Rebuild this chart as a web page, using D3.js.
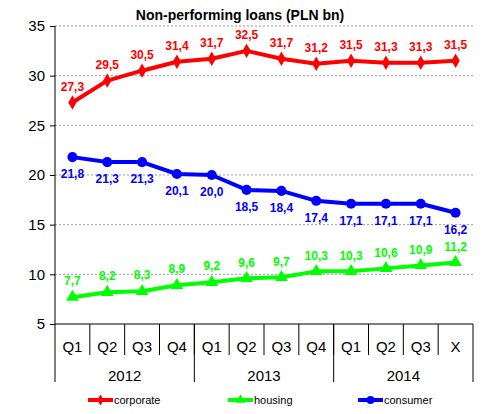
<!DOCTYPE html>
<html>
<head>
<meta charset="utf-8">
<script src="https://cdn.jsdelivr.net/npm/d3@7"></script>
<style>
  html, body { margin: 0; padding: 0; background: #fff; }
  svg { display: block; font-family: Arial, "Liberation Sans", sans-serif; }
</style>
</head>
<body>
<svg id="chart" width="489" height="414"></svg>
<script>
// Quarterly non-performing loans, PLN bn
const quarters = ["Q1", "Q2", "Q3", "Q4", "Q1", "Q2", "Q3", "Q4", "Q1", "Q2", "Q3", "X"];
const years = ["2012", "2013", "2014"];
const yearSpans = [4, 4, 4];
const corporate = [27.3, 29.5, 30.5, 31.4, 31.7, 32.5, 31.7, 31.2, 31.5, 31.3, 31.3, 31.5];
const housing = [7.7, 8.2, 8.3, 8.9, 9.2, 9.6, 9.7, 10.3, 10.3, 10.6, 10.9, 11.2];
const consumer = [21.8, 21.3, 21.3, 20.1, 20.0, 18.5, 18.4, 17.4, 17.1, 17.1, 17.1, 16.2];
const yTicks = [5, 10, 15, 20, 25, 30, 35];

const series = [
  { name: "corporate", values: corporate, color: "#ff0000", symbol: d3.symbolDiamond, size: 60, labelDy: -16 },
  { name: "housing", values: housing, color: "#00ff00", symbol: d3.symbolTriangle, size: 70, labelDy: -16 },
  { name: "consumer", values: consumer, color: "#0000ff", symbol: d3.symbolCircle, size: 80, labelDy: 17 }
];

const svg = d3.select("#chart");
const plot = { left: 55, right: 473, top: 26, bottom: 324 };

const x = d3.scaleBand().domain(d3.range(quarters.length)).range([plot.left, plot.right]);
const y = d3.scaleLinear().domain([5, 35]).range([plot.bottom, plot.top]);
const cx = i => x(i) + x.bandwidth() / 2;

// gridlines
svg.append("g").selectAll("line")
  .data(yTicks.filter(t => t > 5))
  .join("line")
  .attr("x1", plot.left).attr("x2", plot.right)
  .attr("y1", d => y(d)).attr("y2", d => y(d))
  .attr("stroke", "#999").attr("stroke-width", 1)
  .attr("stroke-dasharray", "2,2");

// y axis
const yAxis = svg.append("g")
  .attr("transform", `translate(${plot.left},0)`)
  .call(d3.axisLeft(y).tickValues(yTicks).tickSize(5).tickPadding(5).tickFormat(d3.format("d")));
yAxis.select(".domain").attr("d", `M0,${y(35)}V${plot.bottom + 58}`).attr("stroke", "#000");
yAxis.selectAll("text").attr("font-size", 15).attr("fill", "#000")
  .attr("font-family", "Arial, 'Liberation Sans', sans-serif");
yAxis.selectAll(".tick line").attr("stroke", "#000");

// x axis: quarter row and year row
const axisG = svg.append("g");
axisG.append("line").attr("x1", plot.left).attr("x2", plot.right)
  .attr("y1", plot.bottom).attr("y2", plot.bottom).attr("stroke", "#000");
const bounds = d3.range(1, quarters.length).map(i => x(i));
// short separators between quarters
axisG.selectAll("line.q")
  .data(bounds)
  .join("line").attr("class", "q")
  .attr("x1", d => d).attr("x2", d => d)
  .attr("y1", plot.bottom).attr("y2", plot.bottom + 31)
  .attr("stroke", "#000");
// long separators between years
const yearStarts = [0, ...d3.cumsum(yearSpans)];
const edgeX = n => n < quarters.length ? x(n) : plot.right;
axisG.selectAll("line.yr")
  .data(yearStarts.slice(1))
  .join("line").attr("class", "yr")
  .attr("x1", d => edgeX(d)).attr("x2", d => edgeX(d))
  .attr("y1", plot.bottom).attr("y2", plot.bottom + 58)
  .attr("stroke", "#000");
axisG.selectAll("text.q")
  .data(quarters)
  .join("text").attr("class", "q")
  .attr("x", (d, i) => cx(i))
  .attr("y", plot.bottom + 28)
  .attr("text-anchor", "middle")
  .attr("font-size", 15)
  .text(d => d);
axisG.selectAll("text.yr")
  .data(years)
  .join("text").attr("class", "yr")
  .attr("x", (d, i) => (edgeX(yearStarts[i]) + edgeX(yearStarts[i + 1])) / 2)
  .attr("y", plot.bottom + 57)
  .attr("text-anchor", "middle")
  .attr("font-size", 15)
  .text(d => d);

// series
const line = d3.line().x((d, i) => cx(i)).y(d => y(d));
const fmt = v => d3.format(".1f")(v).replace(".", ",");

series.forEach(s => {
  const g = svg.append("g");
  g.append("path").datum(s.values)
    .attr("d", line).attr("fill", "none")
    .attr("stroke", s.color).attr("stroke-width", 4)
    .attr("stroke-linejoin", "round");
  g.selectAll("path.m").data(s.values).join("path").attr("class", "m")
    .attr("transform", (d, i) => `translate(${cx(i)},${y(d)})`)
    .attr("d", d3.symbol().type(s.symbol).size(s.size))
    .attr("fill", s.color);
  g.selectAll("text").data(s.values).join("text")
    .attr("x", (d, i) => cx(i))
    .attr("y", d => y(d) + s.labelDy)
    .attr("dy", "0.35em")
    .attr("text-anchor", "middle")
    .attr("font-size", 12).attr("font-weight", "bold")
    .attr("fill", s.color)
    .text(d => fmt(d));
});

// title
svg.append("text").attr("x", 240).attr("y", 20)
  .attr("text-anchor", "middle")
  .attr("font-size", 14).attr("font-weight", "bold")
  .text("Non-performing loans (PLN bn)");

// legend
const legendX = [88, 228, 358];
const legend = svg.append("g");
series.forEach((s, i) => {
  const lg = legend.append("g").attr("transform", `translate(${legendX[i]},400)`);
  lg.append("line").attr("x1", 0).attr("x2", 25).attr("stroke", s.color).attr("stroke-width", 4);
  lg.append("path").attr("transform", "translate(12.5,0)")
    .attr("d", d3.symbol().type(s.symbol).size(s.size * 0.6)).attr("fill", s.color);
  lg.append("text").attr("x", 26).attr("dy", "0.35em")
    .attr("font-size", 11).text(s.name);
});
</script>
</body>
</html>
